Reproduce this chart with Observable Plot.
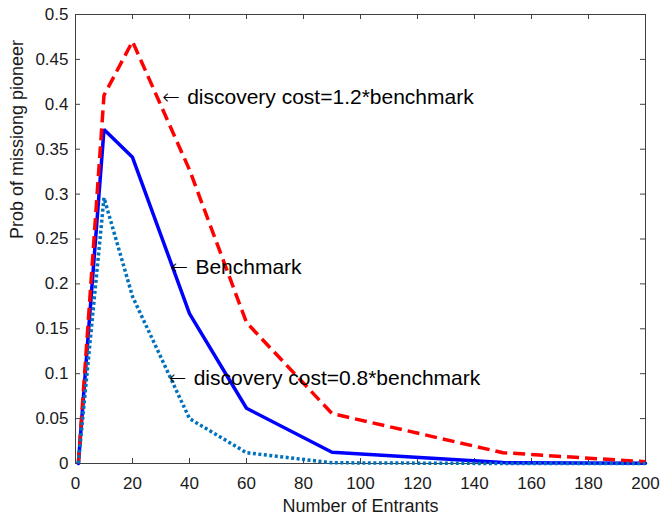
<!DOCTYPE html>
<html>
<head>
<meta charset="utf-8">
<script src="https://cdn.jsdelivr.net/npm/d3@7"></script>
<script src="https://cdn.jsdelivr.net/npm/@observablehq/plot@0.6"></script>
<style>
  html, body { margin: 0; padding: 0; background: #fff; }
</style>
</head>
<body>
<div id="chart"></div>
<script>
// Data
const entrants = [1, 10, 20, 40, 60, 90, 150, 200];
const benchmark = [0, 0.372, 0.341, 0.167, 0.0615, 0.0126, 0.001, 0.0002];
const cost12 = [0, 0.41, 0.47, 0.327, 0.157, 0.0556, 0.012, 0.002];
const cost08 = [0, 0.296, 0.186, 0.05, 0.012, 0.0008, 0, 0];

const xTicks = [0, 20, 40, 60, 80, 100, 120, 140, 160, 180, 200];
const yTicks = [0, 0.05, 0.1, 0.15, 0.2, 0.25, 0.3, 0.35, 0.4, 0.45, 0.5];

const annText = ["discovery cost=1.2*benchmark", "Benchmark", "discovery cost=0.8*benchmark"];
const annX = [30.4, 33.3, 32.7];
const annY = [0.408, 0.218, 0.095];

const xLabel = "Number of Entrants";
const yLabel = "Prob of missiong pioneer";

const toRows = (vals) => entrants.map((x, i) => ({x, y: vals[i]}));
const annotations = annText.map((t, i) => ({t, x: annX[i], y: annY[i]}));

const W = 660, H = 522, mL = 75, mR = 15, mT = 14, mB = 59;
const innerW = W - mL - mR, innerH = H - mT - mB;
const axisColor = "#404040";
const font = "'Liberation Sans', Arial, Helvetica, sans-serif";

const chart = Plot.plot({
  width: W, height: H,
  marginLeft: mL, marginRight: mR, marginTop: mT, marginBottom: mB,
  style: {fontFamily: font, fontSize: "17px", background: "#fff", color: "#000"},
  x: {domain: [0, 200]},
  y: {domain: [0, 0.5]},
  marks: [
    Plot.frame({stroke: axisColor, strokeWidth: 1}),
    // inward ticks on all four sides
    Plot.tickX(xTicks, {x: d => d, stroke: axisColor, insetTop: innerH - 5}),
    Plot.tickX(xTicks, {x: d => d, stroke: axisColor, insetBottom: innerH - 5}),
    Plot.tickY(yTicks, {y: d => d, stroke: axisColor, insetRight: innerW - 5}),
    Plot.tickY(yTicks, {y: d => d, stroke: axisColor, insetLeft: innerW - 5}),
    Plot.axisX({ticks: xTicks, tickSize: 0, tickPadding: 13, tickFormat: d => String(d), label: null, fontSize: 17, fill: "#1a1a1a"}),
    Plot.axisY({ticks: yTicks, tickSize: 0, tickPadding: 7, tickFormat: d => String(d), label: null, fontSize: 17, fill: "#1a1a1a"}),
    Plot.text([xLabel], {frameAnchor: "bottom", dy: 48, fontSize: 18, fill: "#1a1a1a"}),
    Plot.text([yLabel], {frameAnchor: "left", rotate: -90, dx: -58, fontSize: 18, fill: "#1a1a1a"}),
    Plot.line(toRows(benchmark), {x: "x", y: "y", stroke: "#0000ff", strokeWidth: 3.5, strokeLinejoin: "miter"}),
    Plot.line(toRows(cost12), {x: "x", y: "y", stroke: "#ff0000", strokeWidth: 3.5, strokeDasharray: "12,6", strokeLinecap: "butt"}),
    Plot.line(toRows(cost08), {x: "x", y: "y", stroke: "#0072bd", strokeWidth: 3.5, strokeDasharray: "3,2.5", strokeLinecap: "butt"}),
    Plot.text(annotations, {x: "x", y: "y", text: () => "\u2190", textAnchor: "start", lineAnchor: "middle", fontSize: 21, fontFamily: "'DejaVu Sans', sans-serif", fontWeight: 200, fill: "#000"}),
    Plot.text(annotations, {x: "x", y: "y", text: "t", dx: 25, textAnchor: "start", lineAnchor: "middle", fontSize: 21, fill: "#000"})
  ]
});
document.getElementById("chart").appendChild(chart);
</script>
</body>
</html>
